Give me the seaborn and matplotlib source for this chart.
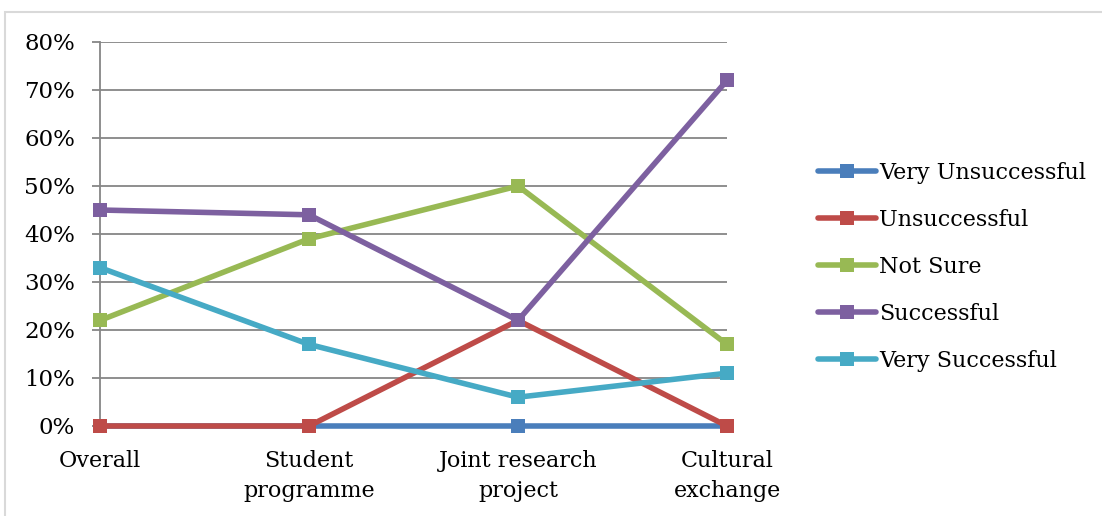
import matplotlib
matplotlib.use("Agg")
import matplotlib.pyplot as plt
import matplotlib.patches as mpatches
import seaborn as sns
import pandas as pd

# Survey outcomes per initiative (percent of respondents)
categories = ["Overall", "Student\nprogramme", "Joint research\nproject", "Cultural\nexchange"]
very_unsuccessful = [0, 0, 0, 0]
unsuccessful = [0, 0, 22, 0]
not_sure = [22, 39, 50, 17]
successful = [45, 44, 22, 72]
very_successful = [33, 17, 6, 11]

series_names = ["Very Unsuccessful", "Unsuccessful", "Not Sure", "Successful", "Very Successful"]
series_values = [very_unsuccessful, unsuccessful, not_sure, successful, very_successful]
colors = ["#4A7EBB", "#BE4B48", "#98B954", "#7D60A0", "#46AAC5"]
y_ticks = [0, 10, 20, 30, 40, 50, 60, 70, 80]
y_tick_labels = [f"{v}%" for v in y_ticks]

rows = []
for name, vals in zip(series_names, series_values):
    for i, v in enumerate(vals):
        rows.append({"pos": i, "category": categories[i], "rating": name, "value": v})
df = pd.DataFrame(rows)

sns.set_theme(style="white")
plt.rcParams["font.family"] = ["DejaVu Serif"]
plt.rcParams["text.color"] = "black"

fig = plt.figure(figsize=(11.02, 5.16), dpi=100)
W, H = 1102, 516
ax = fig.add_axes([100 / W, (H - 426) / H, (727 - 100) / W, (426 - 42) / H])

# light frame around the chart area
frame = mpatches.Rectangle((5 / W, -0.05), 1.2, 1 - 12 / H + 0.05,
                           transform=fig.transFigure, fill=False,
                           edgecolor="#d9d9d9", linewidth=1.5, zorder=0)
fig.patches.append(frame)

sns.lineplot(data=df, x="pos", y="value", hue="rating", hue_order=series_names,
             palette=dict(zip(series_names, colors)), style="rating",
             style_order=series_names, markers=["s"] * 5, dashes=False,
             linewidth=4, markersize=10, markeredgewidth=0, sort=False,
             ax=ax, zorder=3, clip_on=False)

ax.set_xlim(0, 3)
ax.set_ylim(0, 80)
ax.set_yticks(y_ticks)
ax.set_yticklabels(y_tick_labels)
ax.set_xticks(range(len(categories)))
ax.set_xticklabels(categories, linespacing=1.5)
ax.set_xlabel("")
ax.set_ylabel("")

grid_color = "#868686"
ax.yaxis.grid(True, color=grid_color, linewidth=1.3)
ax.xaxis.grid(False)
for side in ["top", "right"]:
    ax.spines[side].set_visible(False)
ax.spines["left"].set_color(grid_color)
ax.spines["left"].set_linewidth(1.3)
ax.spines["bottom"].set_color(grid_color)
ax.spines["bottom"].set_linewidth(1.3)
ax.tick_params(axis="y", length=6, width=1.3, color=grid_color, pad=12,
               labelsize=16.5, labelcolor="black", left=True)
ax.tick_params(axis="x", length=3, width=1.3, color=grid_color, pad=14,
               labelsize=16, labelcolor="black", bottom=True)

handles, labels = ax.get_legend_handles_labels()
ax.get_legend().remove()
leg = fig.legend(handles, labels, loc="center left",
                 bbox_to_anchor=(818 / W, (H - 267) / H),
                 frameon=False, fontsize=16, handlelength=2.6,
                 handletextpad=0.15, labelspacing=1.13,
                 borderpad=0, borderaxespad=0)

fig.savefig("out.png", dpi=100)
